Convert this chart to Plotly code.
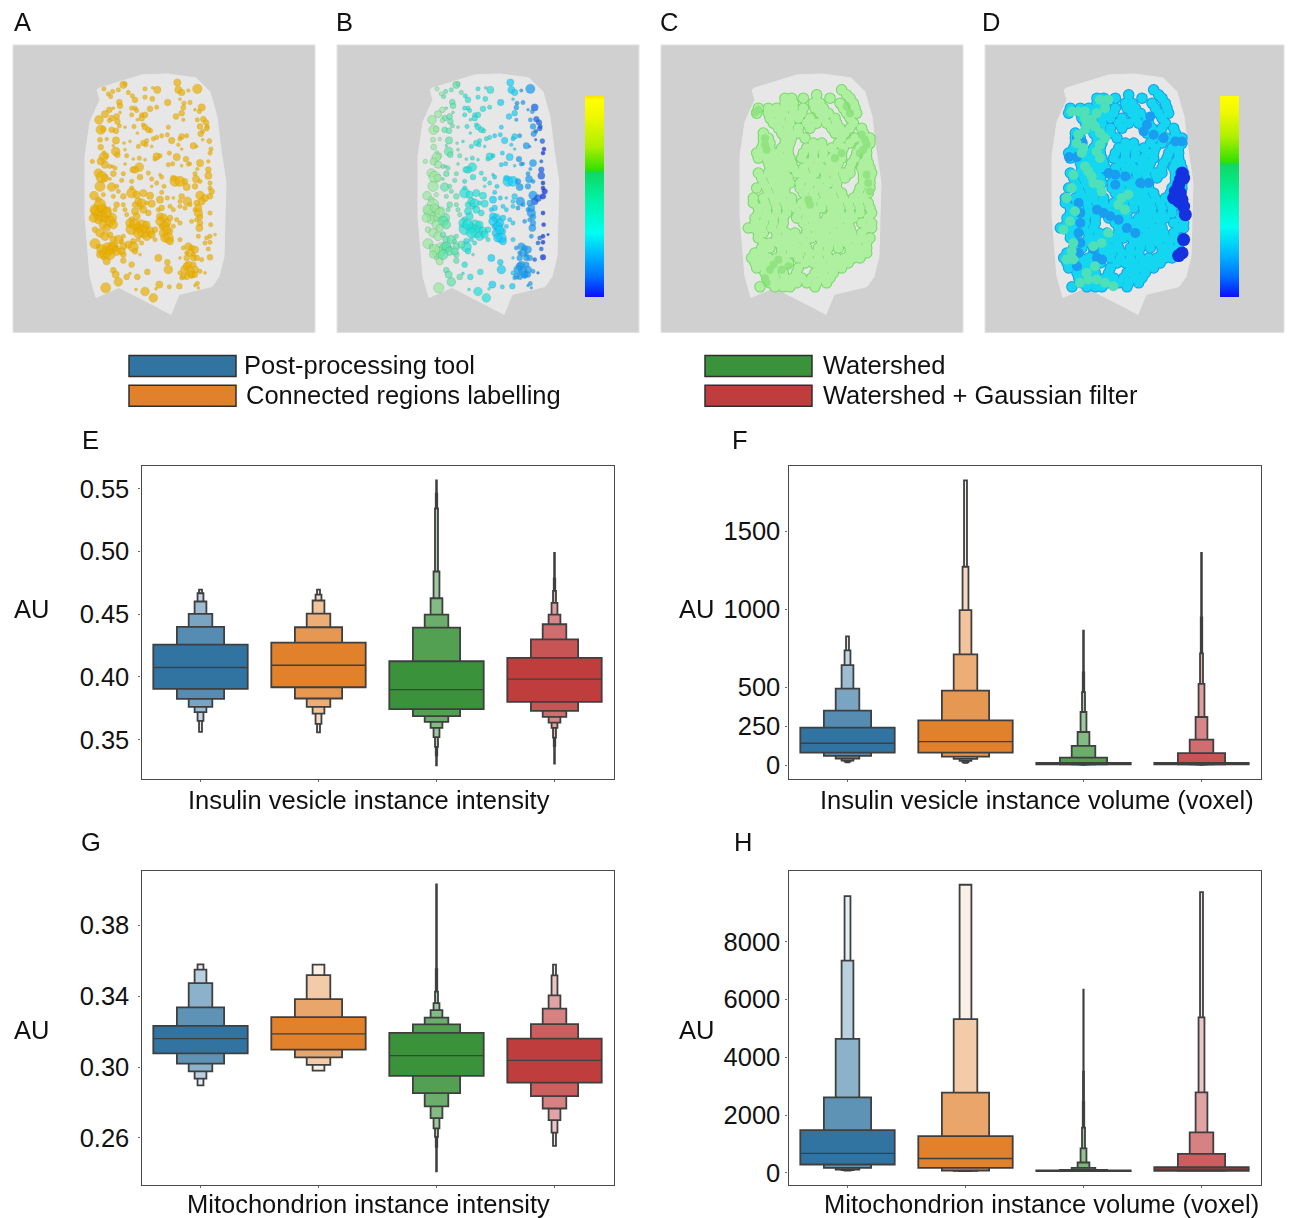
import bisect
import plotly.graph_objects as go

W, H = 1290, 1218
FONT = "Liberation Sans"
INK = "#111111"
EDGE = "#3f3f3f"

SERIES = ["Post-processing tool", "Connected regions labelling", "Watershed", "Watershed + Gaussian filter"]
SERIES_COLORS = ["#3274a1", "#e1812c", "#3a923a", "#c03d3e"]

# ---- letter-value data: per method, levels from the central box outwards
E_MED = [0.4074, 0.4092, 0.3898, 0.3981]
E_LOW = [
    [0.3904, 0.3824, 0.3760, 0.3718, 0.3649, 0.3561],
    [0.3917, 0.3827, 0.3760, 0.3707, 0.3625, 0.3558],
    [0.3742, 0.3686, 0.3641, 0.3593, 0.3519, 0.3442, 0.3375, 0.3295],
    [0.3800, 0.3728, 0.3681, 0.3635, 0.3593, 0.3516, 0.3447, 0.3309],
]
E_HIGH = [
    [0.4257, 0.4398, 0.4501, 0.4600, 0.4666, 0.4695],
    [0.4273, 0.4395, 0.4504, 0.4608, 0.4655, 0.4695],
    [0.4124, 0.4392, 0.4496, 0.4626, 0.4839, 0.5341, 0.5460, 0.5566],
    [0.4151, 0.4299, 0.4419, 0.4496, 0.4589, 0.4685, 0.4783, 0.4987],
]
F_MED = [141, 151, 10, 10]
F_LOW = [
    [81, 60, 43, 30, 23, 19],
    [81, 55, 41, 28, 19, 15],
    [6, 5, 5, 5, 5, 5, 5, 5],
    [6, 5, 5, 5, 5, 5, 5, 5],
]
F_HIGH = [
    [241, 350, 491, 642, 736, 826],
    [288, 478, 710, 994, 1272, 1826],
    [15, 49, 124, 213, 341, 469, 595, 862],
    [15, 77, 164, 309, 521, 717, 947, 1361],
]
G_MED = [0.3161, 0.3188, 0.3065, 0.3038]
G_LOW = [
    [0.3078, 0.3020, 0.2976, 0.2935, 0.2897],
    [0.3099, 0.3055, 0.3012, 0.2980],
    [0.2950, 0.2853, 0.2778, 0.2712, 0.2653, 0.2606, 0.2549, 0.2411],
    [0.2912, 0.2836, 0.2766, 0.2700, 0.2630, 0.2555],
]
G_HIGH = [
    [0.3233, 0.3337, 0.3475, 0.3551, 0.3581],
    [0.3282, 0.3384, 0.3520, 0.3579],
    [0.3193, 0.3241, 0.3280, 0.3322, 0.3362, 0.3426, 0.3554, 0.4032],
    [0.3161, 0.3243, 0.3331, 0.3405, 0.3518, 0.3579],
]
H_MED = [671, 497, 69, 127]
H_LOW = [
    [289, 173, 116, 92, 81],
    [173, 81, 69, 58],
    [58, 69, 75, 81, 81, 81, 81, 81, 81],
    [69, 81, 92, 92, 92, 92],
]
H_HIGH = [
    [1480, 2613, 4636, 7341, 9572],
    [1272, 2775, 5318, 9965],
    [81, 104, 173, 358, 844, 1561, 2462, 3503, 6335],
    [197, 659, 1399, 2786, 5376, 9711],
]
E_TICKS = [0.35, 0.40, 0.45, 0.50, 0.55]
F_TICKS = [0, 250, 500, 1000, 1500]
G_TICKS = [0.26, 0.30, 0.34, 0.38]
H_TICKS = [0, 2000, 4000, 6000, 8000]
E_RANGE = [0.3184, 0.5678]
F_RANGE = [-89.6, 1916]
G_RANGE = [0.2336, 0.4108]
H_RANGE = [-405, 10439]

# ---- micrograph panels, read in a 1/3-pixel grid over the cell
CELL_X = [60, 135, 186, 261, 348, 390, 411, 423, 438, 435, 432, 417, 396, 297, 273, 234, 171, 117, 48, 30, 15, 15, 30, 60, 51, 60]
CELL_Y = [54, 30, 15, 12, 24, 66, 141, 240, 339, 441, 561, 621, 651, 675, 735, 714, 681, 654, 684, 621, 441, 261, 156, 90, 60, 54]

VESICLES_TOP = [
(352,57,6.5),(292,38,5),(295,60,5),(305,68,4.5),(325,62,2.5),(232,60,5),(195,57,3),(218,54,2),(130,45,5),(135,42,3),(115,60,3),(98,65,3),(85,72,3),(92,80,3),(72,57,3),(145,68,3),(157,78,3),(165,90,4),(195,82,3),(217,87,3.5),(263,98,4.5),(300,88,2),(312,100,3),(330,98,3),(118,97,4),(120,108,4),(100,115,2),(155,115,3),(165,115,3),(170,122,3),(210,117,4),(230,112,3),(310,113,3.5),(365,113,5),(358,125,3),(345,120,2),(88,120,4),(75,133,5),(57,150,6),(95,145,4),(88,152,3),(110,140,4),(120,128,2),(155,135,3),(185,145,4),(195,135,4),(185,135,3),(172,150,2),(305,130,4),(288,140,4),(310,150,2.5),(352,150,3),(370,148,4),(378,158,4),(382,170,3),(360,170,4),(380,176,3.5),(368,185,3),(362,192,4),(112,155,4),(118,168,3),(62,180,6.5),(70,178,4),(95,180,4),(108,183,4),(135,172,2),(162,170,3),(190,165,3),(195,172,4),(205,180,4),(212,183,3),(172,190,2),(265,172,3),(262,195,3),(245,198,3),(230,203,3),(220,207,3),(305,200,4),(320,198,3),(300,207,3),(60,210,3.5),(80,208,2.5),(108,212,5),(132,220,2),(150,215,2),(200,213,3),(190,220,4),(198,225,3),(275,212,4.5),(388,214,3.5),(368,210,2),(340,228,4.5),(350,230,2),(62,232,4),(72,248,2.5),(100,228,2),(107,245,6),(112,255,4),(135,240,2),(175,230,3),(215,230,2),(295,225,2.5),(305,238,2),(268,250,3),(230,260,5),(240,258,3),(393,238,3),(390,250,3),(78,258,4),(70,262,6),(62,275,5),(75,285,5),(37,275,3),(140,258,3),(178,265,3),(160,268,2),(195,270,2),(290,262,5),(318,268,4),(385,275,2.5),(360,280,5),(178,292,6),(165,300,5),(158,300,4),(225,268,3),(265,285,3),(278,282,3),(305,288,2),(325,283,3),(90,290,3),(105,295,3),(98,290,2),(135,283,2),(330,282,2.5),(352,298,2.5),(385,300,4),(385,318,5),(55,310,6),(65,322,8),(75,325,5),(100,312,4),(90,328,2),(130,312,3),(205,310,3),(180,322,4),(245,322,3),(240,315,2),(215,328,3),(280,325,4),(285,335,7),(300,335,7),(315,335,4),(345,312,3),(348,328,5),(360,335,3),(390,340,3),(155,335,3),(125,332,3),(230,340,3),(60,350,7),(95,352,6),(110,350,3),(155,355,3),(252,350,3),(320,352,5),(345,350,4),(390,355,3),(215,350,2),
]
VESICLES_BOTTOM = [
(42,378,6),(70,375,3),(100,380,3),(115,365,3),(130,380,4),(155,370,7),(170,375,5),(190,370,5),(210,378,5),(240,390,5),(245,368,3),(262,385,3),(280,385,2),(305,380,4),(300,395,3),(322,395,6),(360,377,6),(375,385,5),(390,380,4),(395,365,4),
(55,390,4),(60,405,8),(50,425,8),(60,435,9),(70,420,6),(55,450,6),(75,445,6),(95,445,7),(85,420,4),(110,405,4),(105,420,3),(130,405,3),(135,420,3),(140,435,3),(165,405,4),(175,395,5),(165,425,5),(180,410,4),(155,450,4),(200,400,3),(215,402,5),(205,430,4),(235,420,3),(245,415,4),(270,410,3),(280,420,3),(300,410,3),(315,415,3),(330,405,3),(345,420,3),(355,430,6),(360,442,4),(390,430,3),(250,445,6),(260,460,6),(270,445,4),(280,470,3),(290,450,3),(300,460,3),(335,455,3),(350,450,3),(358,475,5),(392,465,3),
(155,478,8),(185,470,9),(190,485,9),(175,475,6),(200,465,5),(210,485,6),(225,480,4),(245,470,4),(250,490,6),(265,505,7),(270,485,4),(45,480,4),(60,490,6),(75,500,6),(90,495,4),(100,510,5),(115,510,6),(130,500,3),(160,515,4),(175,510,3),(185,520,3),(225,510,3),(45,522,7),(55,530,3),(85,538,9),(95,535,7),(75,550,8),(105,535,5),(130,530,5),(160,532,7),(130,555,4),(165,545,4),(180,555,2),(125,515,3),(70,565,3),(80,575,5),(155,585,4),(130,573,4),(235,565,5),(262,578,4),(265,600,6),(202,607,4),(100,602,4),(107,615,5),(115,637,6),(140,622,4),(172,622,4),(150,612,2),(77,655,7),(238,645,5),(268,652,3),(298,650,4),(195,666,6),(220,685,6),(228,658,2),(168,660,2),
(300,510,3),(310,535,3),(325,530,5),(335,535,4),(345,540,5),(340,555,3),(355,500,3),(375,520,3),(380,505,3),(390,500,3),(390,518,3),(405,495,2),(320,550,3),(300,565,2),(350,565,4),(365,570,3),(390,563,4),(385,538,3),(325,585,5),(340,585,4),(315,600,6),(330,605,6),(345,600,5),(300,610,3),(320,622,4),(335,620,3),(305,625,3),(360,605,3),(375,610,2),(352,642,3),(345,648,2),(355,655,2),
(45,420,7),(65,415,6),(80,430,7),(90,455,7),(100,465,6),(70,465,6),(40,445,6),(80,475,5),(150,460,6),(165,465,7),(175,490,7),(200,500,6),(215,495,5),(170,440,5),(185,400,6),(190,420,5),(240,440,5),(240,455,6),(255,470,6),(260,480,6),(255,505,6),(270,515,5),(330,550,5),(340,565,4),(320,565,4),(100,530,6),(110,545,6),(90,555,7),(65,540,7),(60,555,5),(125,545,5),(145,525,5),(320,590,5),(335,615,5),(345,615,4),(310,620,4),(365,395,5),(350,400,4),(355,415,5),(360,460,4),
]
# colours seen in successive vertical zones of panel B
B_ZONE_EDGES = [90, 150, 235, 310, 365, 390]
B_ZONE_COLORS = ["#9be89a", "#5fe3a8", "#22e0d8", "#10cdf8", "#1498f4", "#1658ea", "#1024de"]

# mitochondrial network, read row by row from panels C and D
NET_ROWS = [
 (60,[320]), (75,[335,245]), (85,[150,170,205,285,345]), (100,[150,175,235,255,315,355]),
 (115,[70,100,125,150,175,205,240,265,325,360]), (130,[65,100,125,145,175,200,255,280,335,365]),
 (145,[105,135,165,190,225,265,300,345]), (160,[115,140,165,215,245,275,305,355]),
 (175,[130,160,190,225,290,315,345,380]), (190,[85,140,165,190,300,330,385]),
 (205,[85,100,150,170,210,320,360,385,405]), (220,[85,105,150,165,235,260,310,345,385,405]),
 (235,[80,105,140,160,215,240,265,290,325,375,395]), (250,[65,90,110,130,160,205,235,265,300,320,365,395]),
 (265,[70,95,120,140,165,200,235,265,290,320,360,395]), (280,[100,125,150,170,220,250,285,310,350,385,400]),
 (295,[105,130,155,175,205,235,260,285,305,345,380,405]), (310,[70,100,125,150,185,210,240,270,295,325,345,385,410]),
 (325,[80,110,135,160,205,230,270,300,330,385,405]), (340,[85,115,140,165,195,225,250,280,305,385,405]),
 (355,[65,95,125,150,195,220,250,270,305,375,405]), (370,[100,130,150,205,235,265,290,320,370,400]),
 (385,[55,85,115,140,170,215,240,270,295,325,355,385]), (400,[55,90,120,150,170,200,230,260,285,310,340,370,400]),
 (415,[70,95,125,155,180,210,235,260,290,315,345,375,405]), (430,[70,95,125,155,190,215,240,290,315,345,375,410]),
 (445,[60,90,115,145,185,215,240,275,300,330,355,400]), (460,[60,85,115,145,205,235,260,285,310,340,380,410]),
 (475,[40,55,80,110,140,215,240,265,290,320,345,395,410]), (490,[70,85,125,155,180,215,245,270,300,325,350,380]),
 (505,[70,125,150,175,200,230,255,280,305,330,355,380,405]), (520,[85,105,130,155,180,210,260,285,310,335,365,395]),
 (535,[80,105,140,165,190,215,250,280,310,345,370,395]), (550,[60,85,140,170,195,225,250,275,345,370,395]),
 (565,[50,75,100,125,150,190,220,250,280,305,330,355,375]), (580,[60,85,110,135,160,210,235,260,290,315,340]),
 (595,[65,90,115,140,190,250,275,300,320]), (610,[90,115,145,185,240,265,295]),
 (625,[95,120,150,175,200,230,260,285]), (640,[105,130,155,185,215,245,275]), (652,[75,120,145,165,240]),
]
C_SHADE_X = [380,390,395,385,375,90,105,115,130,95,395,400,405,335,345,220,225,90,90,95,320,300,70,60,140,160]
C_SHADE_Y = [195,210,225,240,250,625,600,585,570,640,315,340,365,110,130,390,405,205,225,240,250,265,120,128,600,590]
D_TEAL_X = [74,94,114,114,119,114,159,184,174,149,134,144,159,174,159,149,159,94,89,109,104,114,124,134,139,159,164,79,74,59,84,69,49,79,74,59,79,99,124,149,174,199,119,144,224,244,214,234,184,164,139]
D_TEAL_Y = [125,125,125,145,165,180,90,90,115,130,150,170,190,205,225,245,265,195,220,235,250,290,305,320,340,345,365,315,355,385,425,455,480,520,545,570,570,640,630,630,640,650,610,590,385,375,405,420,490,520,530]
D_BLUE_X = [66,90,105,90,95,100,100,95,100,95,90,190,215,240,265,205,185,205,235,310,300,290,320,350,385,405,140,150,165,280,305,170,150]
D_BLUE_Y = [262,262,215,205,400,430,460,490,520,550,590,440,450,475,490,345,310,315,320,140,165,185,195,205,215,215,540,565,570,340,340,430,420]
D_DEEP_X = [405,410,395,400,385,390,400,380,405,395,410,415,410,405,395]
D_DEEP_Y = [310,325,345,330,365,360,370,385,390,395,410,435,510,550,558]

B_BAR_SCALE = [
 [0.0, "#0a10ff"], [0.1, "#0070ff"], [0.2, "#00b0ff"], [0.32, "#00fff0"], [0.5, "#00f0a0"],
 [0.62, "#10d860"], [0.63, "#30e000"], [0.75, "#b0f000"], [0.9, "#f0f800"], [0.98, "#ffff00"], [1.0, "#ffe000"],
]
D_BAR_SCALE = [
 [0.0, "#0a10ff"], [0.1, "#0070ff"], [0.2, "#00b0ff"], [0.35, "#00fff0"], [0.52, "#00f0a0"],
 [0.66, "#10d860"], [0.67, "#30e000"], [0.8, "#b0f000"], [0.92, "#f0f800"], [1.0, "#ffff00"],
]


def px_x(p):
    return p / W


def px_y(p):
    return 1 - p / H


def lighten(hex_color, t):
    rgb = [int(hex_color[i:i + 2], 16) for i in (1, 3, 5)]
    return "rgb(%d,%d,%d)" % tuple(round(c + (255 - c) * t) for c in rgb)


fig = go.Figure()
layout = {}
shapes = []
annotations = []


def note(text, x, y, size=25.5, anchor="center"):
    annotations.append(dict(text=text, x=px_x(x), y=px_y(y), xref="paper", yref="paper", showarrow=False,
                            xanchor=anchor, yanchor="middle", font=dict(family=FONT, size=size, color=INK)))


def boxen_panel(n, box, low, high, med, y_range, ticks, standoff, ticktext=None):
    x0, x1, y0, y1 = box
    xa, ya = f"x{n}", f"y{n}"
    frame = dict(showgrid=False, zeroline=False, showline=True, linecolor="#4a4a4a", linewidth=1.2, mirror=True)
    layout[f"xaxis{n}"] = dict(domain=[px_x(x0 + 0.5), px_x(x1 - 0.5)], range=[-0.5, 3.5], anchor=ya,
                               tickvals=[0, 1, 2, 3], showticklabels=False, ticks="outside", ticklen=2,
                               tickcolor="#666666", **frame)
    layout[f"yaxis{n}"] = dict(domain=[px_y(y1), px_y(y0)], range=y_range, anchor=xa, tickvals=ticks,
                               ticktext=ticktext, ticks="outside", ticklen=2, tickcolor="#666666",
                               tickfont=dict(family=FONT, size=25.5, color=INK), ticklabelstandoff=standoff, **frame)
    for i in range(4):
        levels = len(low[i])
        order = list(range(levels - 1, -1, -1))
        step = 0.88 / (levels - 1)
        fig.add_trace(go.Bar(
            x=[i] * levels, y=[high[i][k] - low[i][k] for k in order], base=[low[i][k] for k in order],
            width=[0.8 / 2 ** k for k in order], xaxis=xa, yaxis=ya,
            marker=dict(color=[lighten(SERIES_COLORS[i], k * step) for k in order],
                        line=dict(color=EDGE, width=1.8)),
            showlegend=False, name=SERIES[i]))
        fig.add_trace(go.Scatter(x=[i - 0.4, i + 0.4], y=[med[i], med[i]], mode="lines", xaxis=xa, yaxis=ya,
                                 line=dict(color=EDGE, width=1.3), showlegend=False, name=SERIES[i]))


def image_axes(n, box, origin_x):
    x0, x1, y0, y1 = box
    xa, ya = f"x{n}", f"y{n}"
    layout[f"xaxis{n}"] = dict(domain=[px_x(x0), px_x(x1)], range=[(x0 - origin_x) * 3, (x1 - origin_x) * 3],
                               anchor=ya, visible=False)
    layout[f"yaxis{n}"] = dict(domain=[px_y(y1), px_y(y0)], range=[(y1 - 70) * 3, (y0 - 70) * 3],
                               anchor=xa, visible=False)
    shapes.append(dict(type="rect", xref="paper", yref="paper", x0=px_x(x0), x1=px_x(x1), y0=px_y(y1), y1=px_y(y0),
                       fillcolor="#d0d0d0", line=dict(color="#e2e2e2", width=1), layer="below"))
    fig.add_trace(go.Scatter(x=CELL_X, y=CELL_Y, mode="lines", fill="toself", fillcolor="#e7e7e7",
                             line=dict(color="#e7e7e7", width=1), xaxis=xa, yaxis=ya, showlegend=False,
                             hoverinfo="skip"))


def blobs(n, xs, ys, color, size, opacity=1.0):
    fig.add_trace(go.Scatter(x=xs, y=ys, mode="markers", xaxis=f"x{n}", yaxis=f"y{n}", showlegend=False,
                             hoverinfo="skip", opacity=opacity, marker=dict(size=size, color=color, line_width=0)))


NET_X = [x for row_y, row in NET_ROWS for x in row]
NET_Y = [row_y for row_y, row in NET_ROWS for x in row]


def legend_item(x0, y0, color, label, text_x):
    shapes.append(dict(type="rect", xref="paper", yref="paper", x0=px_x(x0), x1=px_x(x0 + 107), y0=px_y(y0 + 21),
                       y1=px_y(y0), fillcolor=color, line=dict(color="#2f2f2f", width=1.5)))
    note(label, text_x, y0 + 10, anchor="left")


# micrograph panels
vesicles = VESICLES_TOP + VESICLES_BOTTOM
ves_x = [d[0] for d in vesicles]
ves_y = [d[1] for d in vesicles]
ves_d = [d[2] * 1.45 for d in vesicles]

image_axes(1, (13, 315, 45, 333), 80)
fig.add_trace(go.Scatter(x=ves_x, y=ves_y, mode="markers", xaxis="x1", yaxis="y1", showlegend=False,
                         marker=dict(size=ves_d, color="#e9b005", line=dict(color="#d39a08", width=0.5))))

image_axes(2, (337, 639, 45, 333), 413)
fig.add_trace(go.Scatter(x=ves_x, y=ves_y, mode="markers", xaxis="x2", yaxis="y2", showlegend=False,
                         marker=dict(size=ves_d, color=[B_ZONE_COLORS[bisect.bisect(B_ZONE_EDGES, v)] for v in ves_x],
                                     line=dict(color="rgba(40,130,130,0.6)", width=0.5))))
fig.add_trace(go.Scatter(x=[-9999, -9999], y=[-9999, -9999], mode="markers", xaxis="x2", yaxis="y2", showlegend=False,
                         marker=dict(color=[0, 1], coloraxis="coloraxis")))

image_axes(3, (661, 963, 45, 333), 735)
blobs(3, NET_X, NET_Y, "#74d866", 11.5)
blobs(3, NET_X, NET_Y, "#aef0a0", 9.5)
blobs(3, C_SHADE_X, C_SHADE_Y, "#84de74", 8, 0.7)

image_axes(4, (985, 1284, 45, 333), 1047)
blobs(4, NET_X, NET_Y, "#129ce8", 11.5)
blobs(4, NET_X, NET_Y, "#14d6f0", 9.5)
blobs(4, D_BLUE_X, D_BLUE_Y, "#1a9cf0", 10)
blobs(4, D_TEAL_X, D_TEAL_Y, "#4fe0b8", 10)
blobs(4, D_DEEP_X, D_DEEP_Y, "#1432e0", 13)
fig.add_trace(go.Scatter(x=[-9999, -9999], y=[-9999, -9999], mode="markers", xaxis="x4", yaxis="y4", showlegend=False,
                         marker=dict(color=[0, 1], coloraxis="coloraxis2")))


def colorbar(x0, scale):
    return dict(colorscale=scale, cmin=0, cmax=1, colorbar=dict(
        x=px_x(x0), xanchor="left", y=px_y(297), yanchor="bottom", lenmode="pixels", len=201, thicknessmode="pixels",
        thickness=19, xpad=0, ypad=0, outlinewidth=0, ticks="", showticklabels=False, borderwidth=0))


layout["coloraxis"] = colorbar(585, B_BAR_SCALE)
layout["coloraxis2"] = colorbar(1220, D_BAR_SCALE)

# boxen panels
boxen_panel(5, (141, 614, 467, 780.5), E_LOW, E_HIGH, E_MED, E_RANGE, E_TICKS, 4, ["0.35", "0.40", "0.45", "0.50", "0.55"])
boxen_panel(6, (788, 1261, 467, 780.5), F_LOW, F_HIGH, F_MED, F_RANGE, F_TICKS, 0)
boxen_panel(7, (141, 614, 872.5, 1186.5), G_LOW, G_HIGH, G_MED, G_RANGE, G_TICKS, 4, ["0.26", "0.30", "0.34", "0.38"])
boxen_panel(8, (788, 1261, 872.5, 1186.5), H_LOW, H_HIGH, H_MED, H_RANGE, H_TICKS, 0)

# legend
legend_item(129, 356, SERIES_COLORS[0], SERIES[0], 242)
legend_item(129, 386, SERIES_COLORS[1], SERIES[1], 244)
legend_item(705, 356, SERIES_COLORS[2], SERIES[2], 821)
legend_item(705, 386, SERIES_COLORS[3], SERIES[3], 821)

# text
for letter, x, y in [("A", 22, 22), ("B", 345, 22), ("C", 669, 22), ("D", 991, 22),
                     ("E", 90, 441), ("F", 740, 441), ("G", 91, 843), ("H", 743, 843)]:
    note(letter, x, y)
for x, y in [(31, 610), (696, 610), (31, 1032), (696, 1032)]:
    note("AU", x, y)
note("Insulin vesicle instance intensity", 369, 801)
note("Insulin vesicle instance volume (voxel)", 1037, 801)
note("Mitochondrion instance intensity", 368, 1206)
note("Mitochondrion instance volume (voxel)", 1041, 1206)

fig.update_layout(width=W, height=H, margin=dict(l=0, r=0, t=0, b=0), paper_bgcolor="white", plot_bgcolor="white",
                  barmode="overlay", showlegend=False, shapes=shapes, annotations=annotations,
                  font=dict(family=FONT, color=INK), **layout)
fig.write_html("out.html", config={"displayModeBar": False},
               post_script="document.body.style.margin='0';document.body.style.overflow='hidden';")
